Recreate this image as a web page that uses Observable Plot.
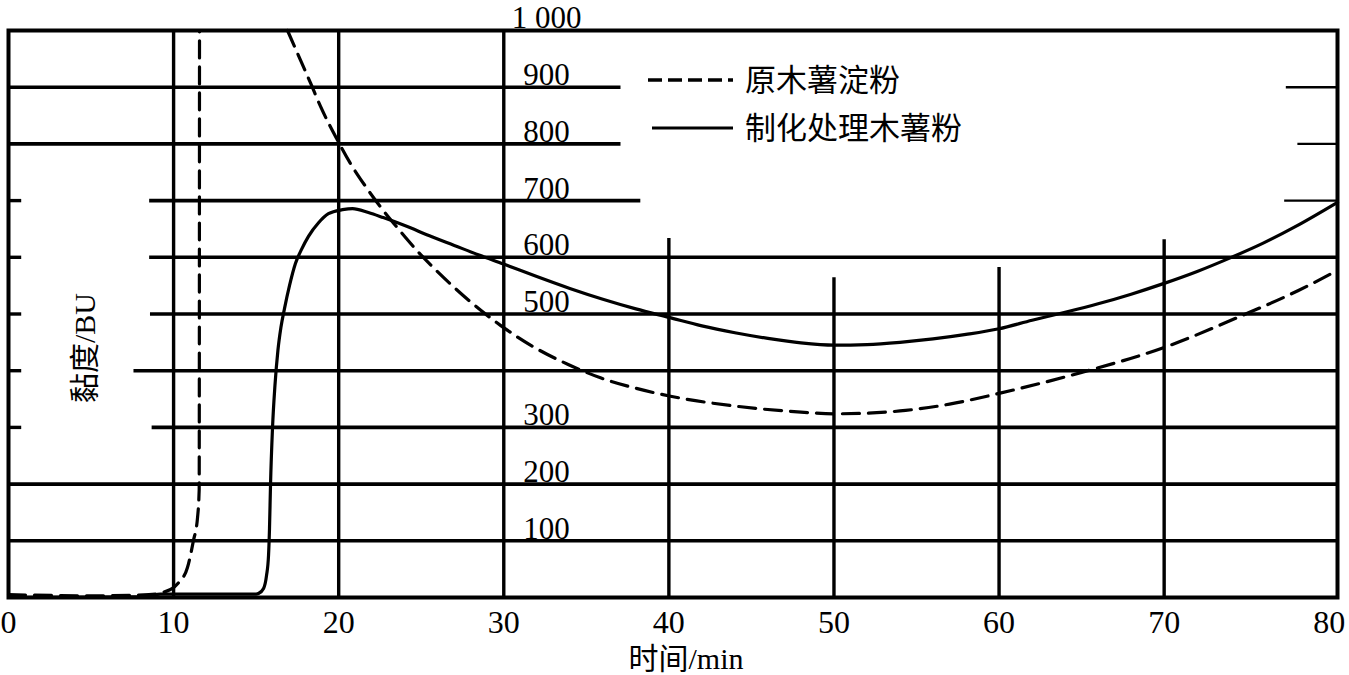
<!DOCTYPE html>
<html>
<head>
<meta charset="utf-8">
<script src="https://cdn.jsdelivr.net/npm/d3@7"></script>
<script src="https://cdn.jsdelivr.net/npm/@observablehq/plot@0.6"></script>
<style>
  html, body { margin: 0; padding: 0; background: #fff; }
  svg { display: block; }
</style>
</head>
<body>
<div id="chart"></div>
<script>
// ---- axis ticks ----
const timeTicks = [0, 10, 20, 30, 40, 50, 60, 70, 80];
const viscosityTicks = [100, 200, 300, 500, 600, 700, 800, 900, 1000];

// ---- chart-paper grid (data units: min, BU) ----
const gridLevels = [100, 200, 300, 400, 500, 600, 700, 800, 900];
const gridFrom   = [0, 0, 8.7, 7.6, 8.6, 8.55, 8.55, 0, 0];
const gridTo     = [80.5, 80.5, 80.5, 80.5, 80.5, 80.5, 38.3, 37.1, 37.1];
const rightTickLevels = [700, 800, 900];
const rightTickFrom   = [77.3, 78.1, 77.4];
const leftTickLevels  = [300, 400, 500, 600, 700];
const leftTickTo      = 0.8;
const gridTimes = [10, 20, 30, 40, 50, 60, 70];
const gridTops  = [1000, 1000, 1000, 633, 564, 582, 631];

// ---- series: 原木薯淀粉 (dashed) ----
const rawTime = [0, 5, 8.5, 9.81, 10.3, 10.84, 11.2, 11.45, 11.55, 11.57, 14,
  16.9, 17.7, 18.3, 18.9, 19.9, 20.7, 21.7, 22.5, 23.7, 24.8, 25.8, 27.8, 29.8,
  31.8, 33.9, 35.9, 38, 40.1, 43.9, 48, 50, 52, 54, 57, 60, 65, 70, 74.7, 78.1, 80.5];
const rawBU = [5, 3, 5, 14, 26, 53, 100, 141, 190, 1000, null,
  1000, 947, 907, 866, 808, 766, 722, 690, 647, 610, 580, 526, 480,
  442, 411, 387, 369, 355, 338, 327, 324, 325, 329, 341, 360, 397, 441, 497, 541, 577];

// ---- series: 制化处理木薯粉 (solid) ----
const treatedTime = [0, 8.4, 9.2, 15.0, 15.14, 15.45, 15.63, 15.75, 15.81, 15.87, 15.99, 16.14,
  16.32, 16.5, 16.72, 17.02, 17.38, 17.75, 18.17, 18.78, 19.38, 20.23, 20.84, 21.8,
  22.7, 24, 25.5, 27, 28.5, 30, 32, 34, 36, 38, 40, 42, 44, 46, 48, 50, 52, 54,
  56, 58, 60, 62, 64, 66, 68, 70, 72, 74, 76, 78, 80.5];
const treatedBU = [0, 1, 6, 6, 7, 16, 39, 74, 122, 198, 298, 374,
  436, 476, 510, 550, 589, 614, 637, 661, 677, 684, 686, 679,
  670, 656, 638, 621, 604, 588, 566, 545, 526, 509, 494, 479, 467, 457, 449, 445, 446, 450,
  456, 464, 474, 489, 503, 518, 535, 554, 575, 599, 625, 655, 697];

const seriesNames = ["原木薯淀粉", "制化处理木薯粉"];

// ---- tables built from the arrays ----
const hGrid = gridLevels.map((v, i) => ({v, x1: gridFrom[i], x2: gridTo[i]}));
const rTicks = rightTickLevels.map((v, i) => ({v, x1: rightTickFrom[i], x2: 80.5}));
const lTicks = leftTickLevels.map(v => ({v, x1: 0, x2: leftTickTo}));
const vGrid = gridTimes.map((t, i) => ({t, top: gridTops[i]}));
const raw = rawTime.map((t, i) => ({t, v: rawBU[i]}));
const treated = treatedTime.map((t, i) => ({t, v: treatedBU[i]}));

const FONT = "'Liberation Serif', 'Noto Sans CJK SC', serif";

const svg = Plot.plot({
  width: 1349,
  height: 675,
  marginLeft: 8,
  marginRight: 12,
  marginTop: 30,
  marginBottom: 78,
  x: {domain: [0, 80.5]},
  y: {domain: [0, 1000]},
  style: {fontFamily: FONT, background: "#fff", color: "#000"},
  marks: [
    Plot.ruleY(hGrid, {y: "v", x1: "x1", x2: "x2", stroke: "#000", strokeWidth: 3.6}),
    Plot.ruleY(rTicks, {y: "v", x1: "x1", x2: "x2", stroke: "#000", strokeWidth: 2.4}),
    Plot.ruleY(lTicks, {y: "v", x1: "x1", x2: "x2", stroke: "#000", strokeWidth: 3.4}),
    Plot.ruleX(vGrid, {x: "t", y1: 0, y2: "top", stroke: "#000", strokeWidth: 3.4}),
    Plot.frame({stroke: "#000", strokeWidth: 4}),
    Plot.line(treated, {x: "t", y: "v", curve: "monotone-x", stroke: "#000", strokeWidth: 3.2}),
    Plot.line(raw, {x: "t", y: "v", curve: "monotone-x", stroke: "#000", strokeWidth: 3.2,
      strokeDasharray: "17,9"}),
    Plot.axisX(timeTicks, {tickSize: 0, tickPadding: 13, fontSize: 32, label: null,
      tickFormat: d => String(d)}),
    Plot.axisY(viscosityTicks, {tickSize: 0, tickPadding: 0, textAnchor: "middle", dx: 538, dy: -12,
      fontSize: 31, label: null, tickFormat: d => d === 1000 ? "1 000" : String(d)}),
    Plot.text(["黏度/BU"], {frameAnchor: "left", rotate: -90, dx: 77, dy: 34, fontSize: 30,
      textAnchor: "middle", lineAnchor: "middle"}),
    Plot.text(["时间/min"], {frameAnchor: "bottom", dx: 13, dy: 62, fontSize: 30,
      textAnchor: "middle", lineAnchor: "middle"})
  ]
});

// legend (inside plot area, upper middle)
const s = d3.select(svg);
const lg = s.append("g").attr("font-family", FONT).attr("font-size", 31)
  .attr("text-anchor", "start");
lg.append("line").attr("x1", 648).attr("x2", 733).attr("y1", 80).attr("y2", 80)
  .attr("stroke", "#000").attr("stroke-width", 3.5).attr("stroke-dasharray", "14,6");
lg.append("text").attr("x", 745).attr("y", 80).attr("dy", "0.35em").text(seriesNames[0]);
lg.append("line").attr("x1", 652).attr("x2", 733).attr("y1", 128).attr("y2", 128)
  .attr("stroke", "#000").attr("stroke-width", 3);
lg.append("text").attr("x", 745).attr("y", 128).attr("dy", "0.35em").text(seriesNames[1]);

document.getElementById("chart").appendChild(svg);
</script>
</body>
</html>
